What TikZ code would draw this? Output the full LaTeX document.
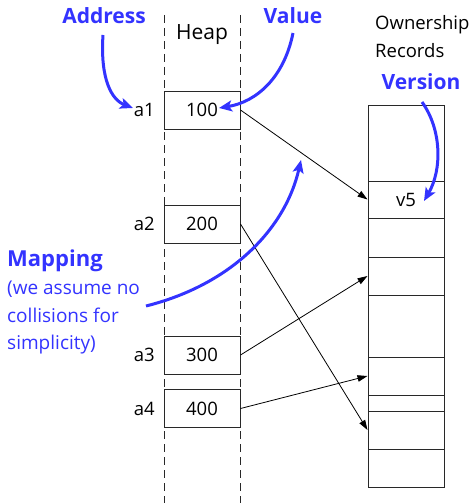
\documentclass[tikz,border=0pt]{standalone}
\usepackage{fontspec}
\setmainfont{Open Sans}
\usetikzlibrary{arrows.meta}
\definecolor{annot}{RGB}{51,51,255}
\definecolor{edge}{RGB}{40,40,40}
\tikzset{
  x=1pt, y=-1pt,
  lbl/.style={font=\fontsize{18.5}{22}\selectfont, inner sep=0pt},
  note/.style={font=\fontsize{21}{24}\selectfont\bfseries, text=annot, inner sep=0pt},
  notetxt/.style={font=\fontsize{19}{27.5}\selectfont, text=annot, inner sep=0pt, align=left},
  cell/.style={draw=edge, line width=1pt, minimum width=76pt, minimum height=38pt, inner sep=0pt, font=\fontsize{18.5}{22}\selectfont},
  slot/.style={draw=edge, line width=1pt, minimum width=76pt, inner sep=0pt, font=\fontsize{18.5}{22}\selectfont},
  divider/.style={draw=edge, line width=0.9pt, dash pattern=on 8pt off 5pt},
  link/.style={draw=black, line width=0.8pt, -{Triangle[length=10pt,width=6.5pt]}},
  callout/.style={draw=annot, line width=3pt, -{Stealth[length=13pt,width=11pt,inset=3pt]}}
}
\begin{document}
\begin{tikzpicture}
\useasboundingbox (0,0) rectangle (475,503);

% heap column boundaries
\coordinate (dlt) at (164,15);
\coordinate (dlb) at (164,503);
\coordinate (drt) at (240,15);
\coordinate (drb) at (240,503);
\draw[divider] (dlt) -- (dlb);
\draw[divider] (drt) -- (drb);
\node[lbl, font=\fontsize{21}{24}\selectfont] (heap) at (202,35) {Heap};

% heap cells
\node[cell] (h1) at (202,110) {100};
\node[cell] (h2) at (202,224) {200};
\node[cell] (h3) at (202,355) {300};
\node[cell] (h4) at (202,408.5) {400};

% addresses
\node[lbl, anchor=east] (a1) at (155,110) {a1};
\node[lbl, anchor=east] (a2) at (155,224) {a2};
\node[lbl, anchor=east] (a3) at (155,355) {a3};
\node[lbl, anchor=east] (a4) at (155,408.5) {a4};

% ownership records table
\node[lbl, align=left, anchor=west, font=\fontsize{18.5}{28}\selectfont] (own) at (375,37) {Ownership\\Records};
\node[slot, minimum height=382pt] (rec) at (406,296) {};
\node[slot, minimum height=37pt] (r1) at (406,199.5) {v5};
\node[slot, minimum height=38pt] (r2) at (406,276) {};
\node[slot, minimum height=38pt] (r3) at (406,376) {};
\node[slot, minimum height=38pt] (r4) at (406,430) {};

% mapping from heap cells to records
\draw[link] (h1.east) -- (r1.west);
\draw[link] (h2.east) -- (r4.west);
\draw[link] (h3.east) -- (r2.west);
\draw[link] (h4.east) -- (r3.west);

% annotations
\node[note] (addr) at (104,16) {Address};
\node[note] (val) at (293,16) {Value};
\node[note] (ver) at (421,82) {Version};
\node[note, anchor=west, font=\fontsize{22}{24}\selectfont\bfseries] (map) at (7,261) {Mapping};
\node[notetxt, anchor=north west] (mapnote) at (7,281) {(we assume no\\collisions for\\simplicity)};

\coordinate (addrTail) at (103,35);
\coordinate (addrTip) at (133,108);
\coordinate (valTail) at (293,33);
\coordinate (valTip) at (219,108);
\coordinate (verTail) at (422,102);
\coordinate (verTip) at (424,201);
\coordinate (mapTail) at (146,306);
\coordinate (mapTip) at (301,160);

\draw[callout] (addrTail) .. controls (100,80) and (112,100) .. (addrTip);
\draw[callout] (valTail) .. controls (284,78) and (256,102) .. (valTip);
\draw[callout] (verTail) .. controls (442,130) and (442,170) .. (verTip);
\draw[callout] (mapTail) .. controls (230,285) and (285,230) .. (mapTip);
\end{tikzpicture}
\end{document}
